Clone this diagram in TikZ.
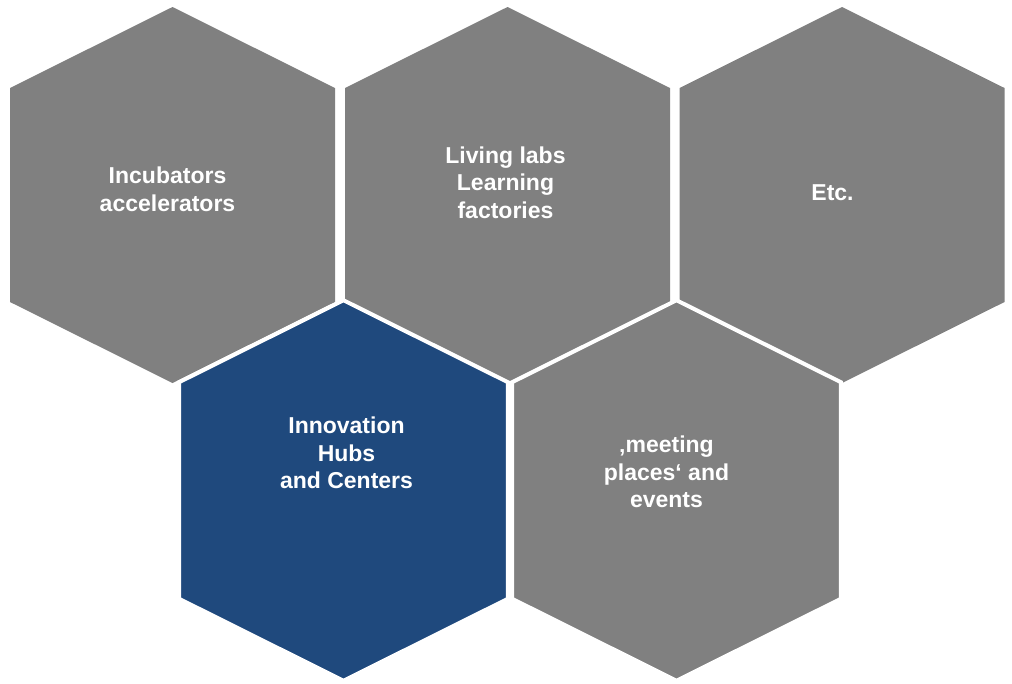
\documentclass[tikz,border=0pt]{standalone}
\usepackage{fontspec}
\setmainfont{Liberation Sans}
\definecolor{hexgray}{HTML}{808080}
\definecolor{hexblue}{HTML}{1F497D}
\tikzset{
  hexpic/.pic={\path[pic actions] (0,-188) -- (162.5,-107) -- (162.5,107) -- (0,188) -- (-162.5,107) -- (-162.5,-107) -- cycle;},
  toprow/.style={fill=hexgray},
  botrow/.style={draw=white, line width=4pt, line join=miter, scale=1.012},
  hextext/.style={text=white, font=\fontsize{23}{27.5}\selectfont\bfseries, align=center, inner sep=0pt}
}
\begin{document}
\begin{tikzpicture}[x=1pt, y=-1pt]
\useasboundingbox (0,0) rectangle (1012,683);
% top row
\pic[toprow] at (172.5,195) {hexpic};
\pic[toprow] at (507.5,195) {hexpic};
\pic[toprow] at (842,195) {hexpic};
% bottom row
\pic[botrow, fill=hexblue] at (343.5,490.5) {hexpic};
\pic[botrow, fill=hexgray] at (676.5,490.5) {hexpic};
% texts
\node[hextext] (t1) at (167.5,189.5) {Incubators\\accelerators};
\node[hextext] (t2) at (505.5,182.3) {Living labs\\Learning\\factories};
\node[hextext] (t3) at (832.5,193) {Etc.};
\node[hextext] (t4) at (346.5,453) {Innovation\\Hubs\\and Centers};
\node[hextext] (t5) at (666.5,472) {‚meeting\\places‘ and\\events};
\end{tikzpicture}
\end{document}
